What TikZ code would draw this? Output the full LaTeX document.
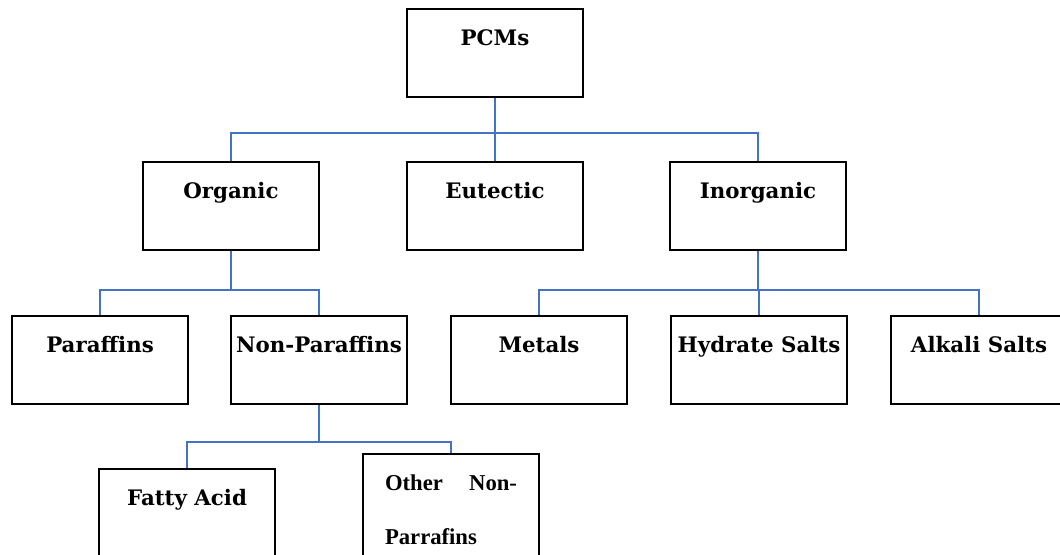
\documentclass[tikz,border=0pt]{standalone}
\usepackage{fontspec}
\setmainfont{DejaVu Serif}
\newfontfamily\timesfont{Liberation Serif}
\definecolor{linkblue}{RGB}{68,114,196}
\tikzset{
box/.style={draw=black, line width=1.4pt, minimum width=132pt, inner xsep=0pt, inner ysep=0pt,
  text height=27pt, text depth=39pt, font=\fontsize{16}{19}\selectfont\bfseries},
otherbox/.style={box, text width=99pt, align=left, text height=27.5pt, text depth=60pt,
  font=\timesfont\fontsize{17}{40.5}\selectfont\bfseries},
link/.style={draw=linkblue, line width=1.1pt}
}
\begin{document}
\begin{tikzpicture}[x=0.75pt,y=0.75pt,yscale=-1,xscale=1]
\useasboundingbox (0,0) rectangle (1060,554);

%Boxes [level 0 and 1]
\node[box] (pcm) at (495,53) {PCMs};
\node[box] (org) at (231,206) {Organic};
\node[box] (eut) at (495,206) {Eutectic};
\node[box] (inorg) at (758,206) {Inorganic};

%Boxes [level 2]
\node[box] (par) at (100,360) {Paraffins};
\node[box] (nonpar) at (319,360) {Non-Paraffins};
\node[box] (met) at (539,360) {Metals};
\node[box] (hyd) at (759,360) {Hydrate Salts};
\node[box] (alk) at (979,360) {Alkali Salts};

%Boxes [level 3]
\node[box] (fatty) at (187,513) {Fatty Acid};
\node[otherbox] (other) at (451,512) {Other\hfill Non-\\Parrafins};

%Junctions
\coordinate (b1) at (495,133);
\coordinate (b2) at (231,290);
\coordinate (b3) at (758,290);
\coordinate (b4) at (319,442);

%Connectors
\draw[link] (pcm.south) -- (b1);
\draw[link] (b1) -| (org.north);
\draw[link] (b1) -| (eut.north);
\draw[link] (b1) -| (inorg.north);
\draw[link] (org.south) -- (b2);
\draw[link] (b2) -| (par.north);
\draw[link] (b2) -| (nonpar.north);
\draw[link] (inorg.south) -- (b3);
\draw[link] (b3) -| (met.north);
\draw[link] (b3) -| (hyd.north);
\draw[link] (b3) -| (alk.north);
\draw[link] (nonpar.south) -- (b4);
\draw[link] (b4) -| (fatty.north);
\draw[link] (b4) -| (other.north);

\end{tikzpicture}
\end{document}
